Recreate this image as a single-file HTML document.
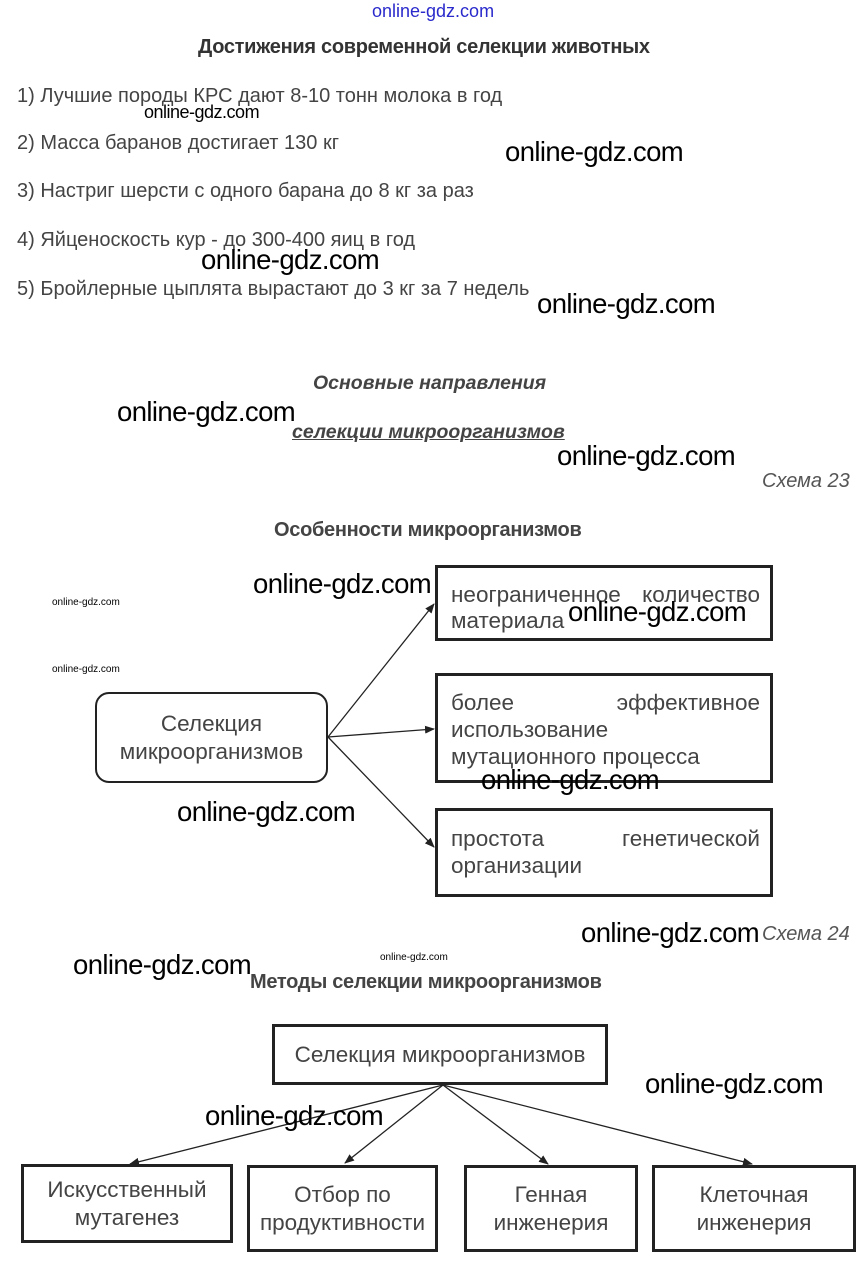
<!DOCTYPE html>
<html><head><meta charset="utf-8"><style>
body{margin:0;width:866px;height:1265px;background:#fff;position:relative;overflow:hidden;font-family:"Liberation Sans","DejaVu Sans",sans-serif;}
.t{position:absolute;white-space:nowrap;line-height:1;}
.li{font-size:20px;color:#444;left:17px;}
.w{font-size:27.5px;color:#000;letter-spacing:-0.6px;}
.ws{font-size:10px;color:#000;}
.b{position:absolute;border:3px solid #222;box-sizing:border-box;color:#444;font-size:22.5px;}
.c{display:flex;align-items:center;justify-content:center;text-align:center;line-height:28px;}
.j{text-align:justify;text-align-last:left;padding:12px 10px 0 13px;line-height:27px;}
</style></head><body>
<div class="t" style="left:372px;top:2px;font-size:18px;color:#2a2acc;">online-gdz.com</div>
<div class="t" style="left:198px;top:37px;font-size:20px;font-weight:bold;color:#333;letter-spacing:-0.3px;">Достижения современной селекции животных</div>
<div class="t li" style="top:86px">1) Лучшие породы КРС дают 8-10 тонн молока в год</div>
<div class="t li" style="top:133px">2) Масса баранов достигает 130 кг</div>
<div class="t li" style="top:181px">3) Настриг шерсти с одного барана до 8 кг за раз</div>
<div class="t li" style="top:230px">4) Яйценоскость кур - до 300-400 яиц в год</div>
<div class="t li" style="top:279px">5) Бройлерные цыплята вырастают до 3 кг за 7 недель</div>

<div class="t" style="left:313px;top:374px;font-size:19.5px;font-weight:bold;font-style:italic;color:#444;">Основные направления</div>
<div class="t" style="left:292px;top:423px;font-size:19.5px;font-weight:bold;font-style:italic;color:#444;text-decoration:underline;">селекции микроорганизмов</div>
<div class="t" style="left:762px;top:471px;font-size:20px;font-style:italic;color:#555;">Схема 23</div>
<div class="t" style="left:274px;top:520px;font-size:20px;font-weight:bold;color:#444;letter-spacing:-0.3px;">Особенности микроорганизмов</div>

<div class="b" style="left:435px;top:565px;width:338px;height:76px;"><div class="j" style="padding-top:14px;line-height:26px;">неограниченное количество материала</div></div>
<div class="b" style="left:435px;top:673px;width:338px;height:110px;"><div class="j" style="padding-top:13px;">более эффективное использование<br>мутационного процесса</div></div>
<div class="b" style="left:435px;top:808px;width:338px;height:89px;"><div class="j" style="padding-top:14px;">простота генетической организации</div></div>
<div class="b c" style="left:95px;top:692px;width:233px;height:91px;border-width:2.5px;border-radius:14px;">Селекция<br>микроорганизмов</div>

<div class="t" style="left:762px;top:924px;font-size:20px;font-style:italic;color:#555;">Схема 24</div>
<div class="t" style="left:250px;top:972px;font-size:20px;font-weight:bold;color:#444;letter-spacing:-0.3px;">Методы селекции микроорганизмов</div>
<div class="b c" style="left:272px;top:1024px;width:336px;height:61px;">Селекция микроорганизмов</div>
<div class="b c" style="left:21px;top:1164px;width:212px;height:79px;">Искусственный<br>мутагенез</div>
<div class="b c" style="left:247px;top:1165px;width:191px;height:87px;">Отбор по<br>продуктивности</div>
<div class="b c" style="left:464px;top:1165px;width:174px;height:87px;">Генная<br>инженерия</div>
<div class="b c" style="left:652px;top:1165px;width:204px;height:87px;">Клеточная<br>инженерия</div>

<svg style="position:absolute;left:0;top:0" width="866" height="1265">
<defs><marker id="a" markerWidth="10" markerHeight="8" refX="9" refY="4" orient="auto" markerUnits="userSpaceOnUse"><path d="M0,0 L10,4 L0,8 z" fill="#222"/></marker></defs>
<g stroke="#222" stroke-width="1.3" fill="none" marker-end="url(#a)">
<line x1="328" y1="737" x2="434" y2="604"/>
<line x1="328" y1="737" x2="434" y2="729"/>
<line x1="328" y1="737" x2="434" y2="847"/>
<line x1="443" y1="1085" x2="130" y2="1164"/>
<line x1="443" y1="1085" x2="345" y2="1163"/>
<line x1="443" y1="1085" x2="548" y2="1164"/>
<line x1="443" y1="1085" x2="752" y2="1164"/>
</g></svg>

<div class="t" style="left:144px;top:103px;font-size:18px;letter-spacing:-0.5px;">online-gdz.com</div>
<div class="t w" style="left:505px;top:138px;">online-gdz.com</div>
<div class="t w" style="left:201px;top:246px;">online-gdz.com</div>
<div class="t w" style="left:537px;top:290px;">online-gdz.com</div>
<div class="t w" style="left:117px;top:398px;">online-gdz.com</div>
<div class="t w" style="left:557px;top:442px;">online-gdz.com</div>
<div class="t w" style="left:253px;top:570px;">online-gdz.com</div>
<div class="t ws" style="left:52px;top:598px;">online-gdz.com</div>
<div class="t ws" style="left:52px;top:665px;">online-gdz.com</div>
<div class="t w" style="left:568px;top:598px;">online-gdz.com</div>
<div class="t w" style="left:481px;top:766px;">online-gdz.com</div>
<div class="t w" style="left:177px;top:798px;">online-gdz.com</div>
<div class="t w" style="left:581px;top:919px;">online-gdz.com</div>
<div class="t ws" style="left:380px;top:953px;">online-gdz.com</div>
<div class="t w" style="left:73px;top:951px;">online-gdz.com</div>
<div class="t w" style="left:645px;top:1070px;">online-gdz.com</div>
<div class="t w" style="left:205px;top:1102px;">online-gdz.com</div>
</body></html>
